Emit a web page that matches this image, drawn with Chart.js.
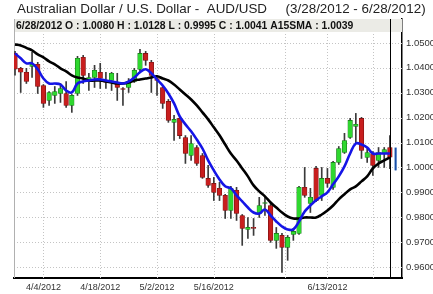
<!DOCTYPE html>
<html><head><meta charset="utf-8">
<script src="https://cdn.jsdelivr.net/npm/chart.js@4/dist/chart.umd.min.js"></script>
<style>html,body{margin:0;padding:0;background:#fff;overflow:hidden}#wrap{width:433px;height:294px;position:relative}</style>
</head><body><div id="wrap"><canvas id="c" width="433" height="294" style="width:433px;height:294px"></canvas></div>
<script>
// Trading days 3/28/2012 - 6/28/2012 (index = position on the x axis)
const dates = ['3/28','3/29','3/30','4/2','4/3','4/4','4/5','4/6','4/9','4/10','4/11','4/12','4/13','4/16','4/17','4/18','4/19','4/20','4/23','4/24','4/25','4/26','4/27','4/30','5/1','5/2','5/3','5/4','5/7','5/8','5/9','5/10','5/11','5/14','5/15','5/16','5/17','5/18','5/21','5/22','5/23','5/24','5/25','5/28','5/29','5/30','5/31','6/1','6/4','6/5','6/6','6/7','6/8','6/11','6/12','6/13','6/14','6/15','6/18','6/19','6/20','6/21','6/22','6/25','6/26','6/27','6/28'];
const opens  = [1.0458,1.0398,1.0382,1.0406,1.0414,1.0329,1.0269,1.0289,1.0297,1.0297,1.0249,1.0297,1.0442,1.0349,1.0361,1.0382,1.0345,1.0349,1.0341,1.0317,1.0321,1.0345,1.0394,1.0458,1.0422,1.0357,1.0321,1.0265,1.0181,1.0197,1.0120,1.0048,1.0080,1.0048,0.9956,0.9936,0.9916,0.9888,0.9827,0.9908,0.9807,0.9751,0.9759,0.9815,0.9855,0.9847,0.9707,0.9727,0.9679,0.9731,0.9735,0.9920,0.9855,0.9996,0.9888,0.9956,0.9920,1.0020,1.0060,1.0120,1.0165,1.0197,1.0040,1.0056,1.0028,1.0056,1.0080];
const highs  = [1.0466,1.0402,1.0398,1.0462,1.0422,1.0333,1.0305,1.0325,1.0337,1.0345,1.0293,1.0446,1.0450,1.0378,1.0410,1.0418,1.0382,1.0382,1.0378,1.0321,1.0357,1.0398,1.0474,1.0466,1.0430,1.0361,1.0329,1.0273,1.0209,1.0205,1.0128,1.0128,1.0088,1.0056,1.0008,0.9960,0.9940,0.9892,0.9924,0.9920,0.9811,0.9799,0.9795,0.9880,0.9880,0.9855,0.9759,0.9735,0.9727,0.9755,0.9924,1.0000,0.9916,1.0004,1.0000,0.9996,1.0024,1.0084,1.0137,1.0197,1.0217,1.0201,1.0076,1.0064,1.0080,1.0080,1.0128];
const lows   = [1.0370,1.0301,1.0337,1.0361,1.0297,1.0241,1.0249,1.0257,1.0261,1.0241,1.0221,1.0289,1.0337,1.0309,1.0321,1.0317,1.0317,1.0309,1.0269,1.0249,1.0301,1.0341,1.0382,1.0410,1.0301,1.0289,1.0237,1.0181,1.0108,1.0116,1.0016,1.0028,1.0008,0.9956,0.9920,0.9867,0.9867,0.9795,0.9795,0.9787,0.9687,0.9715,0.9727,0.9799,0.9807,0.9699,0.9675,0.9578,0.9627,0.9707,0.9731,0.9880,0.9819,0.9863,0.9867,0.9920,0.9912,1.0012,1.0056,1.0116,1.0096,1.0036,1.0020,0.9968,1.0000,1.0000,0.9995];
const closes = [1.0395,1.0382,1.0345,1.0414,1.0325,1.0257,1.0301,1.0305,1.0317,1.0249,1.0289,1.0438,1.0369,1.0361,1.0390,1.0357,1.0341,1.0378,1.0321,1.0313,1.0345,1.0390,1.0458,1.0430,1.0369,1.0349,1.0257,1.0189,1.0193,1.0128,1.0056,1.0096,1.0016,0.9960,0.9928,0.9900,0.9888,0.9827,0.9916,0.9815,0.9755,0.9759,0.9755,0.9847,0.9859,0.9707,0.9735,0.9679,0.9719,0.9743,0.9920,0.9888,0.9880,0.9867,0.9956,0.9936,1.0020,1.0076,1.0108,1.0189,1.0173,1.0068,1.0060,1.0008,1.0060,1.0072,1.0041];
// 15-day average (black) and faster average (blue)
const smaSlow = [1.0494,1.0490,1.0480,1.0470,1.0454,1.0442,1.0426,1.0414,1.0398,1.0386,1.0370,1.0361,1.0357,1.0349,1.0349,1.0349,1.0345,1.0341,1.0337,1.0337,1.0341,1.0349,1.0353,1.0357,1.0361,1.0366,1.0357,1.0349,1.0333,1.0313,1.0293,1.0273,1.0249,1.0221,1.0193,1.0161,1.0129,1.0092,1.0056,1.0028,0.9996,0.9964,0.9928,0.9904,0.9884,0.9859,0.9839,0.9819,0.9803,0.9795,0.9795,0.9799,0.9799,0.9799,0.9811,0.9827,0.9847,0.9872,0.9892,0.9912,0.9924,0.9944,0.9964,0.9996,1.0016,1.0028,1.0040];
const smaFast = [1.0458,1.0438,1.0418,1.0418,1.0394,1.0357,1.0337,1.0337,1.0333,1.0309,1.0301,1.0337,1.0345,1.0349,1.0353,1.0353,1.0349,1.0345,1.0341,1.0337,1.0345,1.0361,1.0382,1.0394,1.0378,1.0353,1.0329,1.0297,1.0257,1.0205,1.0173,1.0145,1.0112,1.0076,1.0028,0.9988,0.9952,0.9924,0.9916,0.9888,0.9864,0.9839,0.9819,0.9815,0.9831,0.9807,0.9783,0.9763,0.9751,0.9751,0.9783,0.9823,0.9847,0.9868,0.9884,0.9900,0.9932,0.9964,1.0004,1.0056,1.0096,1.0092,1.0080,1.0056,1.0056,1.0056,1.0056];
// Latest (live) bar, drawn in blue after the last session
const liveBar = [0.9988, 1.0080];
// Axis ticks
const xTickIdx = [5, 15, 25, 35, 47.5, 55, 63];
const xTickLabels = ['4/4/2012','4/18/2012','5/2/2012','5/16/2012','','6/13/2012',''];
const yTicks = [0.96,0.97,0.98,0.99,1.00,1.01,1.02,1.03,1.04,1.05];
const titleText = 'Australian Dollar / U.S. Dollar -  AUD/USD     (3/28/2012 - 6/28/2012)';
const infoText = '6/28/2012 O : 1.0080 H : 1.0128 L : 0.9995 C : 1.0041 A15SMA : 1.0039';

const n = opens.length;
const up = i => closes[i] >= opens[i];
const wickData = dates.map((d,i)=>({x:i, y:[lows[i], highs[i]]}));
const bodyData = dates.map((d,i)=>({x:i, y:[opens[i], closes[i]]}));
const slowData = smaSlow.map((v,i)=>({x:i, y:v}));
const fastData = smaFast.map((v,i)=>({x:i, y:v}));

const deco = {
  id:'deco',
  beforeDatasetsDraw(chart){
    const {ctx, chartArea:a, scales} = chart;
    ctx.save();
    ctx.strokeStyle = '#c4c4c4'; ctx.lineWidth = 1; ctx.setLineDash([1,2]);
    ctx.beginPath();
    scales.y.ticks.forEach(t=>{ const y = Math.round(scales.y.getPixelForValue(t.value))+0.5; ctx.moveTo(a.left, y); ctx.lineTo(a.right, y); });
    scales.x.ticks.forEach(t=>{ const x = Math.round(scales.x.getPixelForValue(t.value))+0.5; ctx.moveTo(x, a.top); ctx.lineTo(x, a.bottom); });
    ctx.stroke();
    ctx.setLineDash([]);
    ctx.fillStyle = '#ebebe6';
    ctx.fillRect(a.left, a.top, a.right - a.left, 13);
    ctx.strokeStyle = '#b0b0b0';
    ctx.beginPath(); ctx.moveTo(a.left+0.5, a.top); ctx.lineTo(a.left+0.5, a.bottom); ctx.stroke();
    ctx.restore();
  },
  afterDatasetsDraw(chart){
    const {ctx, chartArea:a, scales} = chart;
    const x = Math.round(scales.x.getPixelForValue(n-1)) + 0.5;
    ctx.save();
    ctx.strokeStyle = '#000'; ctx.lineWidth = 1;
    ctx.beginPath(); ctx.moveTo(x, a.top); ctx.lineTo(x, a.bottom); ctx.stroke();
    ctx.fillStyle = '#111';
    ctx.font = 'bold 10.4px Arial, "Liberation Sans", sans-serif';
    ctx.textBaseline = 'alphabetic';
    ctx.fillText(infoText, a.left + 2, a.top + 9.8);
    ctx.fillStyle = '#222';
    ctx.font = '13.4px Arial, "Liberation Sans", sans-serif';
    ctx.fillText(titleText, 17, 13);
    ctx.restore();
  }
};

new Chart(document.getElementById('c'), {
  type:'bar',
  data:{ datasets:[
    {type:'line', data:fastData, borderColor:'#1515e6', borderWidth:2.6, pointRadius:0, tension:0.4, order:0},
    {type:'line', data:slowData, borderColor:'#000', borderWidth:2.6, pointRadius:0, tension:0.4, order:1},
    {data:bodyData, barThickness:4.6, grouped:false, order:2,
      backgroundColor: dates.map((d,i)=> up(i) ? '#2fd82f' : '#c81e1e'),
      borderColor: dates.map((d,i)=> up(i) ? '#166e16' : '#701010'), borderWidth:0.6, borderSkipped:false},
    {data:wickData, barThickness:1, grouped:false, order:3, backgroundColor:'#3a3a3a'},
    {data:[{x:n, y:liveBar}], barThickness:2, grouped:false, order:3, backgroundColor:'#1a4fa8', borderColor:'#7fa6d8', borderWidth:0.5}
  ]},
  options:{
    responsive:false, animation:false, devicePixelRatio:1,
    layout:{padding:{left:14, top:19, right:0, bottom:0}},
    plugins:{legend:{display:false}, tooltip:{enabled:false}, title:{display:false}},
    scales:{
      x:{type:'linear', min:-0.18, max:68.13, offset:false,
        afterBuildTicks: s => { s.ticks = xTickIdx.map(v=>({value:v})); },
        afterFit: s => { s.height = 16; },
        ticks:{autoSkip:false, maxRotation:0, padding:4, color:'#333', font:{family:'Arial', size:9},
          callback:(v,i)=> xTickLabels[i]},
        grid:{display:true, drawOnChartArea:false, drawTicks:false, tickLength:0},
        border:{display:true, color:'#000', width:2}
      },
      y:{type:'linear', position:'right', min:0.9556, max:1.0596,
        afterBuildTicks: s => { s.ticks = yTicks.map(v=>({value:v})); },
        afterFit: s => { s.width = 31; },
        ticks:{padding:4, color:'#333', font:{family:'Arial', size:9.5}, callback:v=>v.toFixed(4)},
        grid:{display:true, drawOnChartArea:false, drawTicks:false, tickLength:0},
        border:{display:true, color:'#000', width:1.5}
      }
    }
  },
  plugins:[deco]
});
</script></body></html>
